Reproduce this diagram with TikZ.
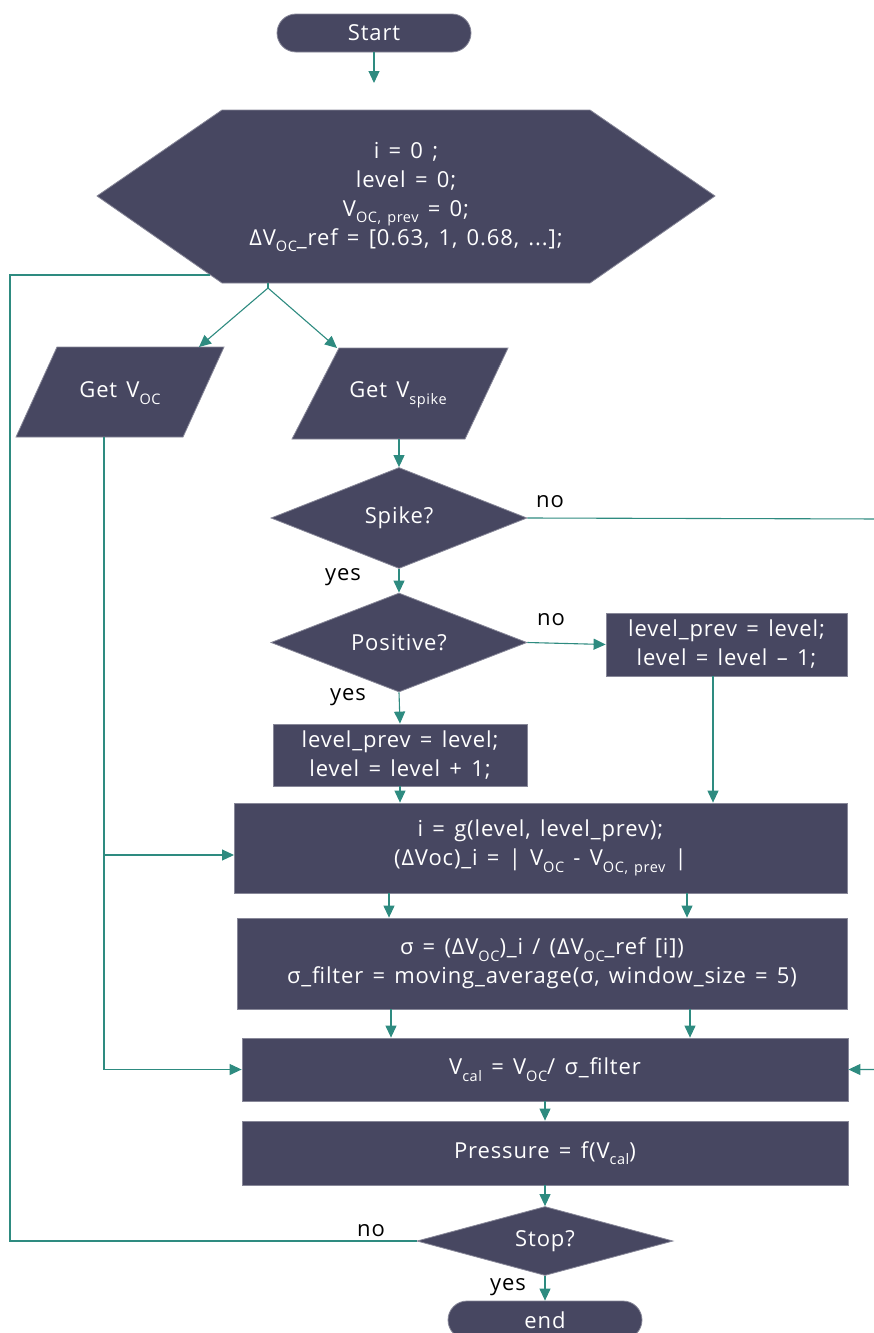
\documentclass[tikz,border=0pt]{standalone}
\usepackage{fontspec}
\setmainfont{Open Sans}[LetterSpace=4,WordSpace=1.4]
\usetikzlibrary{shapes.geometric,arrows.meta}
\definecolor{boxfill}{HTML}{474761}
\definecolor{linec}{HTML}{2E8B80}
\newcommand{\sbx}[1]{\raisebox{-0.3em}{\fontsize{14.5}{14.5}\selectfont #1}}
\newcommand{\mainfs}{\fontsize{22}{29}\selectfont}
\tikzset{
  shapefill/.style={fill=boxfill, draw=boxfill!65!white, line width=0.8pt},
  procbox/.style={shapefill, rectangle, text=white, font=\mainfs, inner sep=0pt, align=center},
  termbox/.style={procbox, rounded corners=19pt, minimum width=194pt, minimum height=38pt},
  decbox/.style={shapefill, diamond, aspect=2.6, text=white, font=\mainfs, inner sep=0pt, minimum width=256pt},
  txt/.style={text=white, font=\mainfs, inner sep=0pt, align=center},
  lbl/.style={text=black, font=\mainfs, inner sep=0pt},
  conn/.style={draw=linec, line width=1.1pt},
  arr/.style={conn, -{Triangle[length=12pt,width=11pt]}, color=linec},
}
\begin{document}
\begin{tikzpicture}[x=1pt,y=-1pt]
\useasboundingbox (0,0) rectangle (874,1333);

% terminals
\node[termbox] (start) at (374,33) {Start};
\node[termbox] (end) at (545,1320) {end};

% hexagon
\path[shapefill] (222,110) -- (590,110) -- (715,196) -- (590,283) -- (222,283) -- (97,196) -- cycle;
\node[txt] (init) at (406,197) {i = 0 ;\\ level = 0;\\ V\sbx{OC, prev} = 0;\\ ΔV\sbx{OC}\_ref = [0.63, 1, 0.68, ...];};

% parallelograms
\path[shapefill] (57,347) -- (224,347) -- (183,437) -- (16,437) -- cycle;
\node[txt] (getvoc) at (120,393) {Get V\sbx{OC}};
\path[shapefill] (339,348) -- (508,348) -- (465,439) -- (292,439) -- cycle;
\node[txt] (getvspk) at (398,395) {Get V\sbx{spike}};

% decisions
\node[decbox, minimum height=101pt] (spike) at (399,518) {Spike?};
\node[decbox, minimum height=99pt] (positive) at (399,642.5) {Positive?};
\node[decbox, minimum height=69pt] (stop) at (545,1241) {Stop?};

% processes
\node[procbox, minimum width=241pt, minimum height=63pt] (lminus) at (726.5,644.5) {level\_prev = level;\\ level = level – 1;};
\node[procbox, minimum width=254pt, minimum height=62pt] (lplus) at (400,755) {level\_prev = level;\\ level = level + 1;};
\node[procbox, minimum width=613pt, minimum height=90pt] (box1) at (540.5,848) {i = g(level, level\_prev);\\ (ΔVoc)\_i = | V\sbx{OC} - V\sbx{OC, prev} |};
\node[procbox, minimum width=610pt, minimum height=91pt] (box2) at (542,963.5) {σ = (ΔV\sbx{OC})\_i / (ΔV\sbx{OC}\_ref [i])\\ σ\_filter = moving\_average(σ, window\_size = 5)};
\node[procbox, minimum width=606pt, minimum height=63pt] (box3) at (545,1069.5) {V\sbx{cal} = V\sbx{OC}/ σ\_filter};
\node[procbox, minimum width=606pt, minimum height=64pt] (pressure) at (545,1153) {Pressure = f(V\sbx{cal})};

% helper coordinates
\coordinate (hextop) at (374,110);
\coordinate (hexbot) at (268,283);
\coordinate (split) at (268,288);
\coordinate (vocin) at (199,347);
\coordinate (spkin) at (337,348);
\coordinate (hexleft) at (210,275);
\coordinate (loopx) at (10,275);
\coordinate (vocbot) at (104,437);
\coordinate (b1in) at (234,855);
\coordinate (vspkbot) at (399,439);
\coordinate (farR) at (884,519);
\coordinate (lm) at (713,676);
\coordinate (c1) at (389,893);
\coordinate (c2) at (687,893);
\coordinate (c3) at (391,1009);
\coordinate (c4) at (690,1009);

% connectors
\draw[arr, shorten >=27pt] (start.south) -- (hextop);
\draw[conn] (hexbot) -- (split);
\draw[arr] (split) -- (vocin);
\draw[arr] (split) -- (spkin);
\draw[conn] (stop.west) -| (loopx) -- (hexleft);
\draw[arr] (vocbot) |- (box3.west);
\draw[arr] (vocbot |- b1in) -- (b1in);
\draw[arr] (vspkbot) -- (spike.north);
\draw[arr] (spike.east) -- (farR) |- (box3.east);
\draw[arr] (spike.south) -- (positive.north);
\draw[arr] (positive.east) -- (lminus.west);
\draw[arr] (positive.south) -- (lplus.north);
\draw[arr] (lplus.south) -- (box1.north -| lplus.south);
\draw[arr] (lm) -- (lm |- box1.north);
\draw[arr] (c1) -- (c1 |- box2.north);
\draw[arr] (c2) -- (c2 |- box2.north);
\draw[arr] (c3) -- (c3 |- box3.north);
\draw[arr] (c4) -- (c4 |- box3.north);
\draw[arr] (box3.south) -- (pressure.north);
\draw[arr] (pressure.south) -- (stop.north);
\draw[arr] (stop.south) -- (end.north);

% labels
\node[lbl] (lno1) at (550,502) {no};
\node[lbl] (lyes1) at (343,577) {yes};
\node[lbl] (lno2) at (551,620) {no};
\node[lbl] (lyes2) at (348,697) {yes};
\node[lbl] (lno3) at (371,1231) {no};
\node[lbl] (lyes3) at (508,1287) {yes};
\end{tikzpicture}
\end{document}
